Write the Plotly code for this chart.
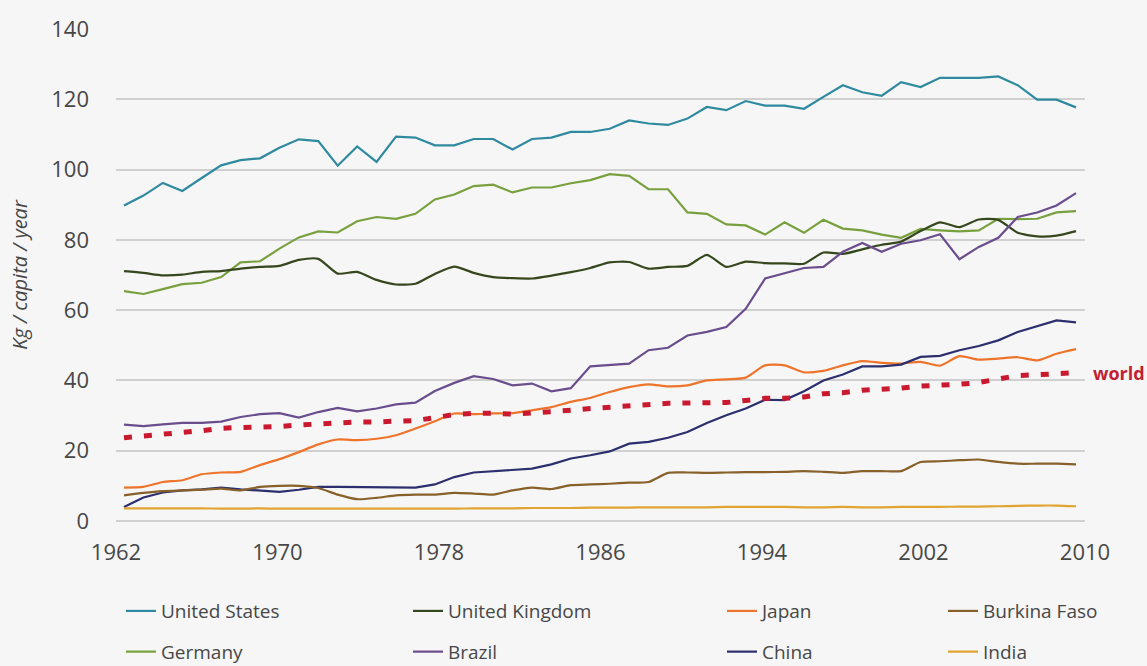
import plotly.graph_objects as go

years = list(range(1961, 2011))
tick_years = [1962, 1970, 1978, 1986, 1994, 2002, 2010]

united_states = [89.8, 92.6, 96.2, 93.9, 97.6, 101.2, 102.7, 103.2, 106.2, 108.6,
                 108.1, 101.1, 106.6, 102.2, 109.4, 109.1, 106.9, 106.9, 108.7, 108.7,
                 105.7, 108.7, 109.1, 110.7, 110.7, 111.6, 114.0, 113.1, 112.7, 114.5,
                 117.8, 116.9, 119.5, 118.2, 118.2, 117.3, 120.7, 124.0, 122.0, 121.0,
                 124.9, 123.5, 126.1, 126.1, 126.1, 126.5, 124.0, 119.9, 119.9, 117.7]
germany = [65.4, 64.6, 66.0, 67.4, 67.8, 69.4, 73.6, 73.9, 77.5, 80.7,
           82.4, 82.1, 85.3, 86.5, 86.0, 87.4, 91.5, 92.9, 95.3, 95.7,
           93.5, 94.9, 94.9, 96.1, 97.0, 98.7, 98.2, 94.4, 94.4, 87.8,
           87.4, 84.4, 84.1, 81.5, 85.0, 82.0, 85.7, 83.2, 82.7, 81.5,
           80.6, 83.1, 82.7, 82.4, 82.7, 86.0, 85.9, 86.0, 87.8, 88.2]
united_kingdom = [71.1, 70.6, 69.9, 70.1, 70.9, 71.1, 71.8, 72.3, 72.6, 74.3,
                  74.6, 70.4, 70.9, 68.6, 67.3, 67.5, 70.3, 72.4, 70.6, 69.4,
                  69.1, 69.0, 69.8, 70.8, 72.0, 73.6, 73.7, 71.8, 72.3, 72.6,
                  75.7, 72.3, 73.8, 73.4, 73.3, 73.2, 76.4, 76.0, 77.3, 78.6,
                  79.5, 82.5, 85.0, 83.6, 85.8, 85.7, 82.0, 81.0, 81.2, 82.5]
brazil = [27.4, 27.0, 27.5, 27.9, 27.9, 28.3, 29.6, 30.4, 30.7, 29.4,
          31.0, 32.2, 31.2, 32.0, 33.2, 33.7, 37.0, 39.3, 41.2, 40.4,
          38.6, 39.1, 36.9, 37.8, 44.0, 44.5, 44.8, 48.6, 49.3, 52.8,
          53.8, 55.2, 60.4, 69.0, 70.4, 72.0, 72.3, 76.6, 79.1, 76.6,
          78.9, 79.9, 81.6, 74.5, 78.0, 80.6, 86.5, 87.8, 89.8, 93.3]
japan = [9.5, 9.7, 11.1, 11.6, 13.3, 13.8, 14.0, 15.9, 17.6, 19.6,
         21.8, 23.2, 23.0, 23.4, 24.4, 26.3, 28.4, 30.6, 30.4, 30.6,
         30.7, 31.5, 32.4, 33.9, 35.0, 36.7, 38.1, 38.9, 38.3, 38.6,
         40.0, 40.3, 40.8, 44.3, 44.3, 42.3, 42.7, 44.3, 45.5, 45.0,
         44.8, 45.3, 44.2, 46.9, 45.9, 46.2, 46.6, 45.7, 47.6, 48.9]
china = [4.0, 6.7, 8.1, 8.7, 9.0, 9.5, 9.0, 8.7, 8.3, 8.9,
         9.7, 9.7, 9.7, 9.7, 9.5, 9.5, 10.4, 12.5, 13.8, 14.1,
         14.4, 14.9, 16.1, 17.8, 18.7, 19.8, 22.0, 22.5, 23.7, 25.3,
         27.9, 30.1, 32.0, 34.5, 34.4, 36.9, 40.0, 41.7, 44.0, 44.0,
         44.5, 46.7, 47.0, 48.6, 49.8, 51.4, 53.8, 55.4, 57.1, 56.5]
burkina_faso = [7.3, 8.0, 8.5, 8.7, 8.9, 9.2, 8.7, 9.7, 10.0, 10.0,
                9.4, 7.5, 6.2, 6.6, 7.3, 7.5, 7.5, 8.0, 7.8, 7.5,
                8.7, 9.5, 9.1, 10.2, 10.4, 10.6, 10.9, 11.1, 13.7, 13.8,
                13.7, 13.8, 13.9, 13.9, 14.0, 14.2, 14.0, 13.7, 14.2, 14.2,
                14.2, 16.8, 17.0, 17.3, 17.5, 16.8, 16.3, 16.3, 16.3, 16.1]
india = [3.6, 3.6, 3.6, 3.6, 3.6, 3.5, 3.5, 3.6, 3.5, 3.5,
         3.5, 3.5, 3.5, 3.5, 3.5, 3.5, 3.5, 3.5, 3.6, 3.6,
         3.6, 3.7, 3.7, 3.7, 3.8, 3.8, 3.8, 3.9, 3.9, 3.9,
         3.9, 4.0, 4.0, 4.0, 4.0, 3.9, 3.9, 4.0, 3.9, 3.9,
         4.0, 4.0, 4.0, 4.1, 4.1, 4.2, 4.3, 4.4, 4.4, 4.2]
world = [23.7, 24.3, 24.7, 25.2, 25.7, 26.4, 26.6, 26.6, 26.9, 27.3,
         27.7, 27.9, 28.2, 28.2, 28.5, 28.6, 29.4, 30.3, 30.6, 30.7,
         30.4, 30.7, 31.0, 31.5, 32.0, 32.4, 33.0, 33.2, 33.5, 33.6,
         33.6, 33.7, 34.3, 34.9, 34.9, 35.3, 36.2, 36.5, 37.2, 37.4,
         37.8, 38.4, 38.6, 38.9, 39.4, 40.4, 41.4, 41.6, 41.8, 42.2]

series = [
    # name, values, colour, shape, legend id
    ("United States", united_states, "#2f8aa0", "linear", "legend"),
    ("Germany", germany, "#78a03e", "linear", "legend"),
    ("United Kingdom", united_kingdom, "#34471d", "spline", "legend2"),
    ("Brazil", brazil, "#6a4d8c", "linear", "legend2"),
    ("Japan", japan, "#ee742b", "spline", "legend3"),
    ("China", china, "#2b2f6e", "linear", "legend3"),
    ("Burkina Faso", burkina_faso, "#87602a", "spline", "legend4"),
    ("India", india, "#e2a431", "spline", "legend4"),
]

FONT = "Open Sans, Noto Sans, sans-serif"
TXT = "#474747"
BG = "#f6f6f6"

fig = go.Figure()
for name, vals, col, shape, lg in series:
    fig.add_trace(go.Scatter(
        x=years, y=vals, name=name, mode="lines",
        line=dict(color=col, width=2.2, shape=shape, smoothing=0.6),
        legend=lg, legendgroup=name, hoverinfo="skip",
    ))

fig.add_trace(go.Scatter(
    x=years, y=world, name="world", mode="lines",
    line=dict(color="#c8192e", width=5, dash="8px,12px"),
    showlegend=False, hoverinfo="skip",
))

# helper (empty) trace so the tick-label axis is drawn
fig.add_trace(go.Scatter(
    x=tick_years, y=[None] * len(tick_years), xaxis="x2", yaxis="y",
    mode="lines", showlegend=False, hoverinfo="skip",
))

fig.add_annotation(
    x=years[-1], y=world[-1], xref="x", yref="y", text="<b>world</b>",
    showarrow=False, xanchor="left", yanchor="middle", xshift=15,
    font=dict(family=FONT, size=18, color="#c21f32"),
)

leg_common = dict(
    orientation="v", xref="paper", yref="container",
    xanchor="left", yanchor="top", y=0.111,
    bgcolor="rgba(0,0,0,0)", tracegroupgap=13,
    font=dict(family=FONT, size=19, color=TXT), itemwidth=30,
)
legend_px = [121, 408, 722, 943]
plot_left, plot_w = 116, 969

fig.update_layout(
    width=1147, height=666,
    paper_bgcolor=BG, plot_bgcolor=BG,
    margin=dict(l=116, r=62, t=29, b=145),
    font=dict(family=FONT, color=TXT),
    showlegend=True,
    legend=dict(x=(legend_px[0] - plot_left) / plot_w, **leg_common),
    legend2=dict(x=(legend_px[1] - plot_left) / plot_w, **leg_common),
    legend3=dict(x=(legend_px[2] - plot_left) / plot_w, **leg_common),
    legend4=dict(x=(legend_px[3] - plot_left) / plot_w, **leg_common),
    xaxis=dict(
        range=[1961 - 8 / 19.429, 2010 + 9 / 19.429],
        showticklabels=False, showgrid=False, zeroline=False, showline=False,
        ticks="", fixedrange=True,
    ),
    xaxis2=dict(
        overlaying="x", anchor="y", side="bottom",
        range=[tick_years[0], tick_years[-1]],
        tickmode="array", tickvals=tick_years, ticktext=[str(t) for t in tick_years],
        showgrid=False, zeroline=False, showline=False, ticks="",
        ticklabelstandoff=16,
        tickfont=dict(family=FONT, size=22, color=TXT),
    ),
    yaxis=dict(
        range=[0, 140], dtick=20, tick0=0,
        showgrid=True, gridcolor="#d0d0d0", gridwidth=1.5,
        zeroline=True, zerolinecolor="#d0d0d0", zerolinewidth=1.5,
        showline=False, ticks="", ticklabelstandoff=26,
        tickfont=dict(family=FONT, size=22, color=TXT),
        title=dict(text="Kg / capita / year", standoff=18,
                   font=dict(family=FONT, size=20, color=TXT, style="italic")),
    ),
)

fig.write_html("out.html", config={"displayModeBar": False},
               post_script="document.body.style.margin='0';document.body.style.background='#f6f6f6';")
